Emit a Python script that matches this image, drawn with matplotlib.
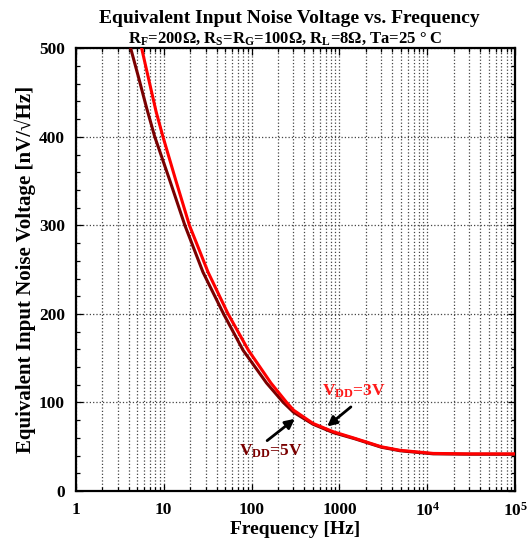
import matplotlib
matplotlib.use("Agg")
import matplotlib.pyplot as plt
from matplotlib.ticker import FixedLocator, FixedFormatter, LogLocator, MultipleLocator, NullFormatter

plt.rcParams['font.family'] = ['Liberation Serif', 'DejaVu Serif']
plt.rcParams['font.weight'] = 'bold'
plt.rcParams['mathtext.fontset'] = 'custom'
plt.rcParams['mathtext.rm'] = 'Liberation Serif:bold'
plt.rcParams['mathtext.bf'] = 'Liberation Serif:bold'
plt.rcParams['mathtext.it'] = 'Liberation Serif:bold'

f_5v = [4.2, 5.2, 6.4, 7.9, 11.6, 17.4, 28, 48, 80, 148, 230, 300, 500, 850, 1500, 3000, 4900, 11700, 30000, 100000]
v_5v = [500, 466, 432, 400, 352, 300, 247, 200, 159, 122, 100, 89, 75.5, 66, 59, 49.5, 45.5, 42, 41.6, 41.5]
f_3v = [5.6, 6.7, 8.2, 9.8, 13.6, 19.6, 32, 54, 92, 166, 251, 300, 500, 850, 1500, 3000, 4900, 11700, 30000, 100000]
v_3v = [500, 466, 428, 400, 352, 300, 247, 200, 159, 122, 100, 91.4, 76.4, 67, 59.5, 50, 46, 42.5, 42, 42]

xticks = [1, 10, 100, 1000, 1e4, 1e5]
xticklabels = ['1', '10', '100', '1000', '$10^4$', '$10^5$']

fig = plt.figure(figsize=(5.31, 5.42), dpi=100)
ax = fig.add_axes([0.143, 0.094, 0.827, 0.817])

ax.plot(f_5v, v_5v, color='#7a0000', lw=2.2, zorder=3)
ax.plot(f_3v, v_3v, color='#ff0000', lw=2.2, zorder=4)

ax.set_xscale('log')
ax.set_xlim(1, 1e5)
ax.set_ylim(0, 500)
ax.xaxis.set_major_locator(FixedLocator(xticks))
ax.xaxis.set_major_formatter(FixedFormatter(xticklabels))
ax.xaxis.set_minor_locator(LogLocator(base=10, subs=range(2, 10)))
ax.xaxis.set_minor_formatter(NullFormatter())
ax.yaxis.set_major_locator(MultipleLocator(100))
ax.yaxis.set_minor_locator(MultipleLocator(20))

ax.grid(True, which='major', axis='both', ls=':', color='#444444', lw=0.9)
ax.grid(True, which='minor', axis='x', ls=':', color='#444444', lw=0.9)

ax.tick_params(which='both', direction='in', top=True, right=True, labelsize=12.5)
ax.tick_params(which='major', length=5, width=0.9, pad=8)
ax.tick_params(which='minor', length=3, width=0.9)
for s in ax.spines.values():
    s.set_linewidth(1.6)

ax.set_xlabel('Frequency [Hz]', fontsize=14, fontweight='bold', labelpad=1)
ax.set_ylabel('Equivalent Input Noise Voltage [nV/\u221aHz]', fontsize=15, fontweight='bold', labelpad=2)

fig.text(0.545, 0.966, 'Equivalent Input Noise Voltage vs. Frequency', ha='center', va='center',
         fontsize=14, fontweight='bold')
subtitle = ('R$_{\\mathrm{F}}$=200\u03a9, R$_{\\mathrm{S}}$=R$_{\\mathrm{G}}$=100\u03a9, '
            'R$_{\\mathrm{L}}$=8\u03a9, Ta=25 \u00b0 C')
fig.text(0.538, 0.928, subtitle, ha='center', va='center', fontsize=12, fontweight='bold')

ax.annotate('', xy=(686, 71), xytext=(1429, 97),
            arrowprops=dict(arrowstyle='-|>', color='black', lw=2, mutation_scale=14))
ax.text(1466, 113, r'V$_{\mathrm{DD}}$=3V', color='#ff1a1a', fontsize=12.5, fontweight='bold',
        ha='center', va='center')
ax.annotate('', xy=(329, 83.5), xytext=(142, 55),
            arrowprops=dict(arrowstyle='-|>', color='black', lw=2, mutation_scale=14))
ax.text(166, 45, r'V$_{\mathrm{DD}}$=5V', color='#7a0000', fontsize=12.5, fontweight='bold',
        ha='center', va='center')

fig.savefig('out.png', dpi=100)
